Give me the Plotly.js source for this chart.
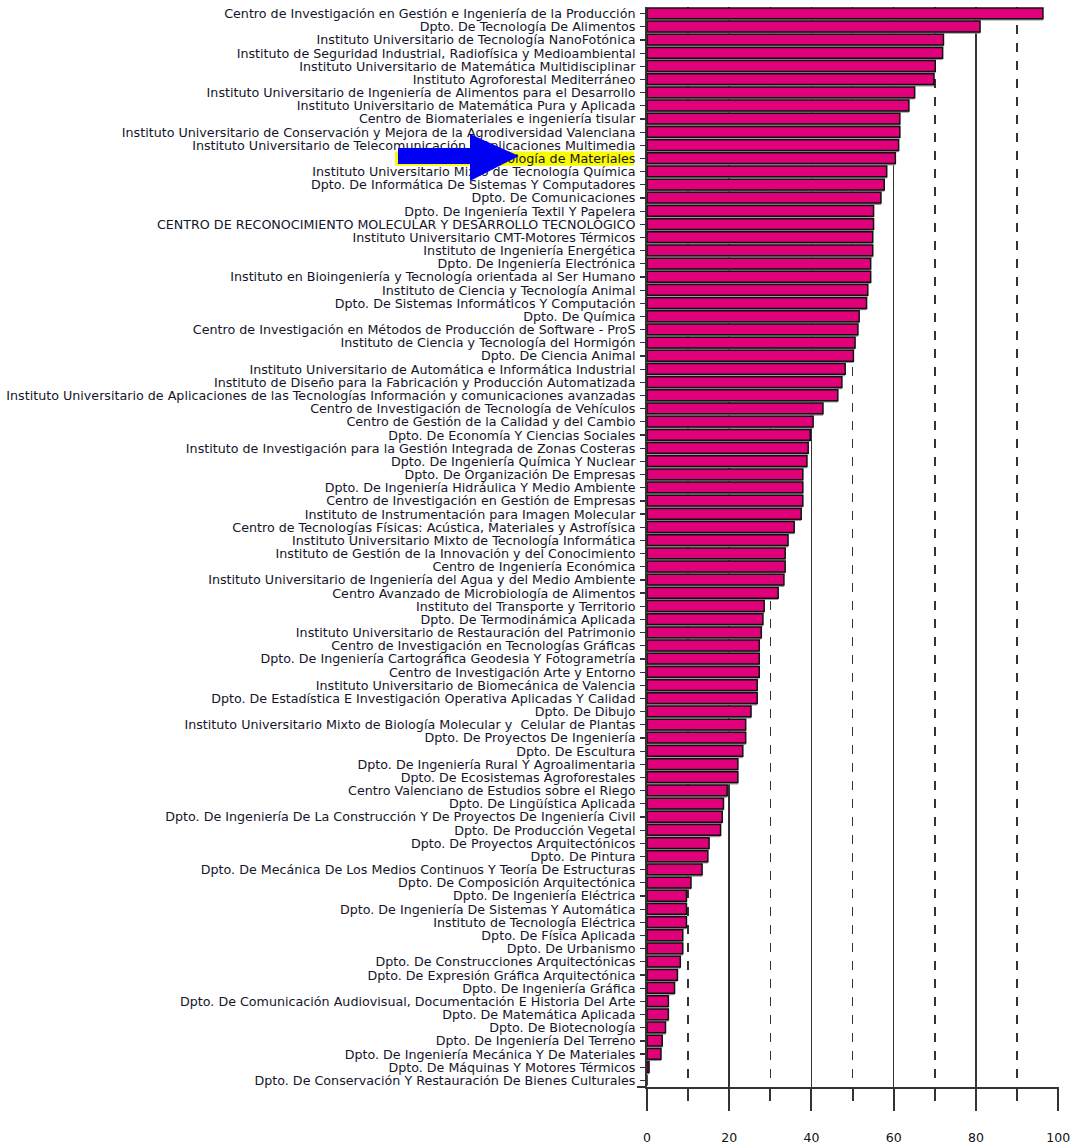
<!DOCTYPE html>
<html>
<head>
<meta charset="utf-8">
<script src="https://cdn.plot.ly/plotly-3.0.1.min.js"></script>
<style>html,body{margin:0;padding:0;background:#fff;}#chart{width:1083px;height:1146px;}</style>
</head>
<body>
<div id="chart"></div>
<script>
const categories = [
"Centro de Investigación en Gestión e Ingeniería de la Producción",
"Dpto. De Tecnología De Alimentos",
"Instituto Universitario de Tecnología NanoFotónica",
"Instituto de Seguridad Industrial, Radiofísica y Medioambiental",
"Instituto Universitario de Matemática Multidisciplinar",
"Instituto Agroforestal Mediterráneo",
"Instituto Universitario de Ingeniería de Alimentos para el Desarrollo",
"Instituto Universitario de Matemática Pura y Aplicada",
"Centro de Biomateriales e ingeniería tisular",
"Instituto Universitario de Conservación y Mejora de la Agrodiversidad Valenciana",
"Instituto Universitario de Telecomunicación y Aplicaciones Multimedia",
"Instituto de Tecnología de Materiales",
"Instituto Universitario Mixto de Tecnología Química",
"Dpto. De Informática De Sistemas Y Computadores",
"Dpto. De Comunicaciones",
"Dpto. De Ingeniería Textil Y Papelera",
"CENTRO DE RECONOCIMIENTO MOLECULAR Y DESARROLLO TECNOLÓGICO",
"Instituto Universitario CMT-Motores Térmicos",
"Instituto de Ingeniería Energética",
"Dpto. De Ingeniería Electrónica",
"Instituto en Bioingeniería y Tecnología orientada al Ser Humano",
"Instituto de Ciencia y Tecnología Animal",
"Dpto. De Sistemas Informáticos Y Computación",
"Dpto. De Química",
"Centro de Investigación en Métodos de Producción de Software - ProS",
"Instituto de Ciencia y Tecnología del Hormigón",
"Dpto. De Ciencia Animal",
"Instituto Universitario de Automática e Informática Industrial",
"Instituto de Diseño para la Fabricación y Producción Automatizada",
"Instituto Universitario de Aplicaciones de las Tecnologías Información y comunicaciones avanzadas",
"Centro de Investigación de Tecnología de Vehículos",
"Centro de Gestión de la Calidad y del Cambio",
"Dpto. De Economía Y Ciencias Sociales",
"Instituto de Investigación para la Gestión Integrada de Zonas Costeras",
"Dpto. De Ingeniería Química Y Nuclear",
"Dpto. De Organización De Empresas",
"Dpto. De Ingeniería Hidráulica Y Medio Ambiente",
"Centro de Investigación en Gestión de Empresas",
"Instituto de Instrumentación para Imagen Molecular",
"Centro de Tecnologías Físicas: Acústica, Materiales y Astrofísica",
"Instituto Universitario Mixto de Tecnología Informática",
"Instituto de Gestión de la Innovación y del Conocimiento",
"Centro de Ingeniería Económica",
"Instituto Universitario de Ingeniería del Agua y del Medio Ambiente",
"Centro Avanzado de Microbiología de Alimentos",
"Instituto del Transporte y Territorio",
"Dpto. De Termodinámica Aplicada",
"Instituto Universitario de Restauración del Patrimonio",
"Centro de Investigación en Tecnologías Gráficas",
"Dpto. De Ingeniería Cartográfica Geodesia Y Fotogrametría",
"Centro de Investigación Arte y Entorno",
"Instituto Universitario de Biomecánica de Valencia",
"Dpto. De Estadística E Investigación Operativa Aplicadas Y Calidad",
"Dpto. De Dibujo",
"Instituto Universitario Mixto de Biología Molecular y  Celular de Plantas",
"Dpto. De Proyectos De Ingeniería",
"Dpto. De Escultura",
"Dpto. De Ingeniería Rural Y Agroalimentaria",
"Dpto. De Ecosistemas Agroforestales",
"Centro Valenciano de Estudios sobre el Riego",
"Dpto. De Lingüística Aplicada",
"Dpto. De Ingeniería De La Construcción Y De Proyectos De Ingeniería Civil",
"Dpto. De Producción Vegetal",
"Dpto. De Proyectos Arquitectónicos",
"Dpto. De Pintura",
"Dpto. De Mecánica De Los Medios Continuos Y Teoría De Estructuras",
"Dpto. De Composición Arquitectónica",
"Dpto. De Ingeniería Eléctrica",
"Dpto. De Ingeniería De Sistemas Y Automática",
"Instituto de Tecnología Eléctrica",
"Dpto. De Física Aplicada",
"Dpto. De Urbanismo",
"Dpto. De Construcciones Arquitectónicas",
"Dpto. De Expresión Gráfica Arquitectónica",
"Dpto. De Ingeniería Gráfica",
"Dpto. De Comunicación Audiovisual, Documentación E Historia Del Arte",
"Dpto. De Matemática Aplicada",
"Dpto. De Biotecnología",
"Dpto. De Ingeniería Del Terreno",
"Dpto. De Ingeniería Mecánica Y De Materiales",
"Dpto. De Máquinas Y Motores Térmicos",
"Dpto. De Conservación Y Restauración De Bienes Culturales"
];

const values = [
96.3, 81.0, 72.1, 71.9, 70.1, 69.8, 65.1, 63.7, 61.5, 61.5,
61.2, 60.4, 58.3, 57.7, 56.9, 55.1, 55.1, 54.9, 54.9, 54.4,
54.4, 53.7, 53.4, 51.6, 51.3, 50.6, 50.2, 48.2, 47.4, 46.4,
42.8, 40.4, 39.7, 39.2, 38.9, 37.9, 37.9, 37.9, 37.5, 35.8,
34.3, 33.6, 33.6, 33.3, 31.9, 28.5, 28.2, 27.8, 27.3, 27.3,
27.3, 26.8, 26.8, 25.3, 24.0, 24.0, 23.3, 22.1, 22.1, 19.5,
18.6, 18.3, 17.9, 15.1, 14.8, 13.4, 10.7, 9.6, 9.6, 9.6,
8.7, 8.7, 8.1, 7.4, 6.7, 5.2, 5.2, 4.5, 3.7, 3.4,
0.5, 0
];

const highlighted = "Instituto de Tecnología de Materiales";
const xTickValues = [0, 20, 40, 60, 80, 100];

// geometry helpers (pixels -> paper) for the annotation arrow
const W = 1083, H = 1146;
const M = {l: 647, r: 24, t: 7, b: 59};
const pw = W - M.l - M.r, ph = H - M.t - M.b;
const px = x => ((x - M.l) / pw).toFixed(4);
const py = y => ((H - M.b - y) / ph).toFixed(4);

const arrowPts = [[398,148],[470,148],[470,134],[519,156],[470,181],[470,164],[398,164]];
const arrowPath = 'M' + arrowPts.map(p => px(p[0]) + ',' + py(p[1])).join(' L') + ' Z';

const hiIdx = categories.indexOf(highlighted);

const shadow = {
  type: 'bar', orientation: 'h',
  y: categories, x: values,
  width: 0.82, offset: -0.29,
  marker: {color: '#9a9a9a', line: {width: 0}},
  hoverinfo: 'skip', showlegend: false
};
const bars = {
  type: 'bar', orientation: 'h',
  y: categories, x: values,
  width: 0.82, offset: -0.43,
  marker: {color: '#E0007A', line: {color: '#111', width: 1.5}},
  showlegend: false
};

const layout = {
  width: W, height: H,
  margin: M,
  paper_bgcolor: '#fff', plot_bgcolor: '#fff',
  barmode: 'overlay',
  showlegend: false,
  font: {family: 'DejaVu Sans, sans-serif', size: 12.7, color: '#14142a'},
  xaxis: {
    range: [0, 100.2],
    tickvals: xTickValues,
    ticktext: xTickValues.map(String),
    showgrid: true, gridcolor: '#333', gridwidth: 1.5,
    zeroline: false,
    ticks: 'outside', ticklen: 22, tickwidth: 2, tickcolor: '#333',
    showline: true, linecolor: '#333', linewidth: 2,
    ticklabelstandoff: 16,
    tickfont: {size: 12.5, color: '#111'},
    minor: {dtick: 10, tick0: 0, showgrid: true, griddash: 'dash', gridcolor: '#333', gridwidth: 1.5,
            ticks: 'outside', ticklen: 12, tickwidth: 2, tickcolor: '#333'},
    fixedrange: true
  },
  yaxis: {
    type: 'category',
    categoryorder: 'array', categoryarray: categories,
    tickmode: 'array', tickvals: categories, ticktext: categories,
    range: [categories.length - 0.5, -0.5],
    showgrid: false, zeroline: false,
    showline: true, linecolor: '#333', linewidth: 2,
    ticks: 'outside', ticklen: 5, tickwidth: 1.2, tickcolor: '#333',
    ticklabelstandoff: 2,
    automargin: false,
    fixedrange: true
  },
  shapes: [
    {type: 'rect', xref: 'paper', yref: 'y', layer: 'below',
     x0: px(395), x1: px(634), y0: hiIdx - 0.52, y1: hiIdx + 0.55,
     fillcolor: '#FAFA00', line: {width: 0}},
    {type: 'line', xref: 'paper', yref: 'paper', layer: 'above',
     x0: px(637), x1: 0, y0: 0, y1: 0, line: {color: '#333', width: 2}},
    {type: 'path', xref: 'paper', yref: 'paper', layer: 'above',
     path: arrowPath, fillcolor: '#0000F2', line: {width: 0}}
  ]
};

Plotly.newPlot('chart', [shadow, bars], layout, {displayModeBar: false, staticPlot: true});
</script>
</body>
</html>
